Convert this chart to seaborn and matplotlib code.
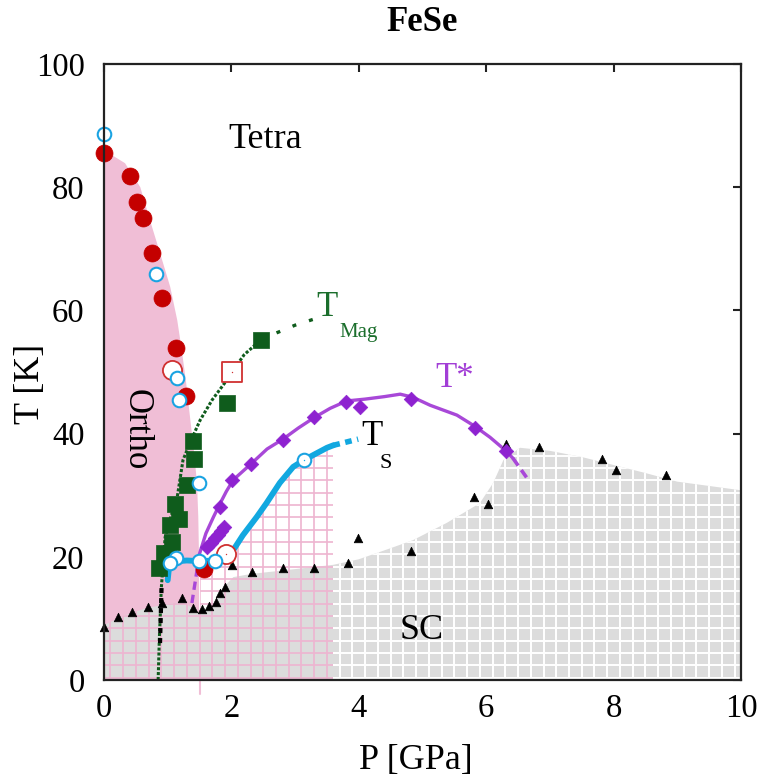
import numpy as np
import pandas as pd
import matplotlib
matplotlib.use("Agg")
import matplotlib.pyplot as plt
import seaborn as sns
from matplotlib.patches import Polygon

# ---------------- data (P in GPa, T in K) ----------------
# Orthorhombic phase boundary (pink region)
ortho_P = [0.0, 0.33, 0.57, 0.72, 0.88, 1.04, 1.15, 1.22, 1.29, 1.35, 1.41, 1.46, 1.48, 1.49, 1.50]
ortho_T = [86.0, 83.9, 80.0, 74.7, 69.3, 63.8, 58.4, 53.6, 48.2, 42.7, 37.3, 32.0, 26.5, 21.0, 0.0]

# Superconducting dome boundary (grey region top)
sc_P = [0.0, 0.3, 0.67, 1.0, 1.24, 1.4, 1.51, 1.71, 1.8, 1.9, 2.03, 2.3, 2.56, 3.0, 3.6,
        4.0, 4.5, 4.85, 5.38, 5.9, 6.11, 6.27, 6.53, 7.0, 7.5, 8.0, 8.5, 9.0, 9.5, 10.0]
sc_T = [8.9, 10.4, 11.7, 12.3, 12.7, 11.6, 10.9, 11.7, 13.6, 15.3, 16.7, 17.2, 17.5, 18.0, 18.7,
        19.6, 21.4, 22.7, 25.5, 28.7, 32.0, 35.7, 37.7, 37.2, 36.2, 34.9, 33.6, 32.2, 31.5, 30.8]

# Ts line (cyan)
ts_P = [1.0, 1.02, 1.05, 1.3, 1.5, 1.74, 1.86, 2.03, 2.18, 2.4, 2.55, 2.76, 2.97, 3.14, 3.3, 3.5, 3.6]
ts_T = [16.2, 18.2, 19.2, 19.4, 19.3, 19.4, 20.3, 21.1, 23.5, 26.5, 28.7, 32.0, 34.6, 35.7, 36.6, 37.7, 38.1]
ts_ext_P = [3.6, 3.99]
ts_ext_T = [38.1, 39.1]

# T* line (purple)
tstar_P = [1.47, 1.5, 1.6, 1.72, 1.82, 1.92, 2.03, 2.31, 2.56, 2.81, 3.05, 3.3, 3.55, 3.81, 4.1,
           4.4, 4.65, 4.85, 5.12, 5.54, 5.82, 6.06, 6.31, 6.42]
tstar_T = [18.5, 20.5, 23.8, 26.5, 28.6, 30.6, 32.5, 35.1, 37.5, 39.1, 40.9, 42.6, 44.1, 45.3, 45.6,
           46.0, 46.4, 45.9, 44.6, 43.0, 41.2, 39.4, 37.2, 36.0]
tstar_lo_P = [1.38, 1.47]
tstar_lo_T = [12.5, 18.5]
tstar_hi_P = [6.42, 6.66]
tstar_hi_T = [36.0, 32.5]

# T_Mag line (green)
tmag_P = [0.85, 0.87, 0.9, 0.96, 1.05, 1.15, 1.24, 1.37, 1.51, 1.7, 1.93, 2.01, 2.2, 2.46]
tmag_T = [0.0, 7.0, 15.0, 23.2, 26.5, 29.7, 35.7, 39.0, 42.2, 45.5, 48.7, 50.0, 52.8, 55.2]
tmag_blk_P = [0.88, 0.905]
tmag_blk_T = [6.0, 15.5]
tmag_ext_P = [2.46, 2.72, 3.0, 3.3]
tmag_ext_T = [55.2, 56.4, 57.6, 58.6]

# markers
red_fill_P = [0.0, 0.41, 0.52, 0.61, 0.75, 0.91, 1.13, 1.29, 1.57]
red_fill_T = [85.5, 81.8, 77.6, 75.0, 69.3, 62.0, 53.9, 46.1, 18.0]

blue_open_P = [0.0, 0.82, 1.15, 1.18, 1.49, 1.13, 1.04, 1.49, 1.74, 3.14]
blue_open_T = [88.6, 65.9, 49.0, 45.5, 32.0, 19.8, 19.0, 19.3, 19.3, 35.7]

red_open_P = [1.07, 1.92]
red_open_T = [50.3, 20.5]
red_sq_P = [2.01]
red_sq_T = [50.0]

green_sq_P = [2.46, 1.93, 1.40, 1.41, 1.30, 1.11, 1.18, 1.04, 1.07, 0.94, 1.01, 0.87]
green_sq_T = [55.2, 45.0, 38.8, 35.9, 31.7, 28.6, 26.1, 25.2, 22.4, 20.6, 20.5, 18.2]

diam_P = [1.62, 1.68, 1.74, 1.79, 1.84, 1.88, 1.82, 2.01, 2.31, 2.81, 3.30, 3.80, 4.02, 4.82, 5.82, 6.31]
diam_T = [21.6, 22.3, 23.0, 23.6, 24.2, 24.8, 28.1, 32.5, 35.1, 39.0, 42.7, 45.1, 44.3, 45.6, 40.9, 37.2]

tri_P = [0.0, 0.22, 0.44, 0.69, 0.91, 1.22, 1.40, 1.54, 1.65, 1.76, 1.82, 1.90, 2.01, 2.32,
         2.81, 3.30, 3.83, 3.99, 4.82, 5.81, 6.03, 6.31, 6.83, 7.82, 8.04, 8.82]
tri_T = [8.6, 10.2, 11.0, 11.8, 12.5, 13.3, 11.7, 11.5, 12.0, 12.7, 14.1, 15.1, 18.7, 17.5,
         18.2, 18.2, 19.0, 23.0, 20.9, 29.7, 28.6, 38.3, 37.8, 35.9, 34.1, 33.3]

x_ticks = [0, 2, 4, 6, 8, 10]
y_ticks = [0, 20, 40, 60, 80, 100]

# ---------------- style ----------------
sns.set_theme(style="white")
plt.rcParams['font.family'] = ['Liberation Serif', 'DejaVu Serif']
plt.rcParams['text.color'] = 'black'
plt.rcParams['axes.labelcolor'] = 'black'
plt.rcParams['xtick.color'] = 'black'
plt.rcParams['ytick.color'] = 'black'

PINK = '#f0bed6'
PINK_GRID = '#eeb4d0'
GREY = '#dcdcdc'
RED = '#c40000'
BLUE = '#1aa3e2'
CYAN = '#12a8e0'
GREEN = '#0f5c1c'
PURPLE_L = '#a848d8'
PURPLE_M = '#8e22d0'

fig = plt.figure(figsize=(7.61, 7.78), dpi=100)
ax = fig.add_axes([104/761, 1 - 680/778, (741-104)/761, (680-64)/778])
ax.set_xlim(0, 10)
ax.set_ylim(0, 100)

# ---------------- regions ----------------
ortho_poly = Polygon(list(zip(ortho_P + [0.0], ortho_T + [0.0])), closed=True,
                     facecolor=PINK, edgecolor='none', zorder=1)
ax.add_patch(ortho_poly)

sc_poly = Polygon(list(zip([0.0] + sc_P + [10.0], [0.0] + sc_T + [0.0])), closed=True,
                  facecolor=GREY, edgecolor='none', zorder=1.2)
ax.add_patch(sc_poly)

# white grid inside SC region for P > 3.6
gx = np.arange(0.1, 10.0, 0.2)
gy = np.arange(0.4, 40.0, 2.0)
wl1 = ax.vlines(gx[gx > 3.6], 0, 40, colors='white', lw=1.4, zorder=1.5)
wl2 = ax.hlines(gy, 3.6, 10, colors='white', lw=1.4, zorder=1.5)
wl1.set_clip_path(sc_poly)
wl2.set_clip_path(sc_poly)

# pink grid: below SC top for P<1.5, below Ts line for 1.5<P<3.6
hatch_pts = [(0.0, 0.0)]
hatch_pts += [(p, t) for p, t in zip(sc_P, sc_T) if p <= 1.51]
hatch_pts += [(1.51, 19.3)]
hatch_pts += [(p, t) for p, t in zip(ts_P, ts_T) if p >= 1.51]
hatch_pts += [(3.6, 0.0)]
hatch_poly = Polygon(hatch_pts, closed=True, facecolor='none', edgecolor='none', zorder=1.3)
ax.add_patch(hatch_poly)
pl1 = ax.vlines(gx[gx < 3.6], 0, 40, colors=PINK_GRID, lw=1.2, zorder=1.5)
pl2 = ax.hlines(gy, 0, 3.6, colors=PINK_GRID, lw=1.2, zorder=1.5)
pl1.set_clip_path(hatch_poly)
pl2.set_clip_path(hatch_poly)

# pink tick below axis at ortho boundary
ax.plot([1.5, 1.5], [0, -2.2], color=PINK, lw=1.5, clip_on=False, zorder=1)

# ---------------- lines ----------------
def line(P, T, color, lw, ls='-', z=3):
    df = pd.DataFrame({'P': P, 'T': T})
    sns.lineplot(data=df, x='P', y='T', sort=False, estimator=None, color=color,
                 lw=lw, ax=ax, zorder=z, legend=False)
    ln = ax.lines[-1]
    if ls != '-':
        ln.set_linestyle(ls)
    return ln

line(tmag_P, tmag_T, GREEN, 2.2, (0, (1, 0.6)))
line(tmag_blk_P, tmag_blk_T, 'black', 3.0, (0, (1.2, 1.2)))
line(tmag_ext_P, tmag_ext_T, GREEN, 2.4, (0, (1.2, 4)))

line(ts_P, ts_T, CYAN, 4.2, '-', 3.2)
line(ts_ext_P, ts_ext_T, CYAN, 4.0, (0, (1.2, 1.0)), 3.2)

line(tstar_P, tstar_T, PURPLE_L, 2.4)
line(tstar_lo_P, tstar_lo_T, PURPLE_L, 2.4, (0, (2.5, 1.5)))
line(tstar_hi_P, tstar_hi_T, PURPLE_L, 2.6, (0, (2.5, 1.5)))

# ---------------- markers ----------------
def pts(P, T, marker, s, face, edge, lw, z=4):
    df = pd.DataFrame({'P': P, 'T': T})
    sns.scatterplot(data=df, x='P', y='T', marker=marker, s=s, color=face,
                    edgecolor=edge, linewidth=lw, ax=ax, zorder=z, clip_on=False,
                    legend=False)

pts(tri_P, tri_T, '^', 38, 'black', 'black', 0.5, 4)
pts(diam_P, diam_T, 'D', 55, PURPLE_M, PURPLE_M, 0.5, 4.2)
pts(green_sq_P, green_sq_T, 's', 120, GREEN, GREEN, 0.5, 4.3)
pts(red_fill_P, red_fill_T, 'o', 150, RED, RED, 0.5, 4.4)
pts(red_open_P, red_open_T, 'o', 190, 'white', '#d03030', 1.3, 4.5)
pts(red_sq_P, red_sq_T, 's', 190, 'white', '#d03030', 1.3, 4.5)
pts(blue_open_P, blue_open_T, 'o', 95, 'white', BLUE, 1.5, 4.6)
pts(red_sq_P + red_open_P[1:], red_sq_T + red_open_T[1:], '.', 4, '#d03030', '#d03030', 0, 4.7)
pts([3.14], [35.7], '.', 4, BLUE, BLUE, 0, 4.7)

# ---------------- labels ----------------
ax.text(2.53, 87.7, 'Tetra', fontsize=26, ha='center', va='center', zorder=6)
ax.text(0.50, 40.6, 'Ortho', fontsize=25, rotation=270, ha='center', va='center', zorder=6)
ax.text(4.98, 8.1, 'SC', fontsize=26, ha='center', va='center', zorder=6)
ax.text(3.5, 60.5, 'T', fontsize=25, color='#1b6e2c', ha='center', va='center', zorder=6)
ax.text(4.0, 56.4, 'Mag', fontsize=15, color='#1b6e2c', ha='center', va='center', zorder=6)
ax.text(5.5, 49.0, 'T*', fontsize=25, color='#a23ed6', ha='center', va='center', zorder=6)
ax.text(4.2, 39.6, 'T', fontsize=25, color='black', ha='center', va='center', zorder=6)
ax.text(4.42, 35.2, 'S', fontsize=16, color='black', ha='center', va='center', zorder=6)

ax.set_title('FeSe', fontsize=25, fontweight='bold', pad=24)
ax.set_xlabel('P [GPa]', fontsize=26, va='center')
ax.set_ylabel('T [K]', fontsize=26, va='center')
ax.xaxis.set_label_coords(0.49, -0.13)
ax.yaxis.set_label_coords(-0.116, 0.48)

ax.set_xticks(x_ticks)
ax.set_yticks(y_ticks)
ax.set_xticklabels([str(v) for v in x_ticks])
ax.set_yticklabels([str(v) for v in y_ticks])
ax.tick_params(axis='both', which='major', direction='in', length=6, width=1.5,
               top=True, right=True, labelsize=23.5, pad=10, color='#222222',
               labelcolor='black')
ax.tick_params(axis='y', pad=14)
for sp in ax.spines.values():
    sp.set_visible(True)
    sp.set_linewidth(1.6)
    sp.set_color('#222222')
    sp.set_zorder(7)

fig.savefig('out.png', dpi=100)
